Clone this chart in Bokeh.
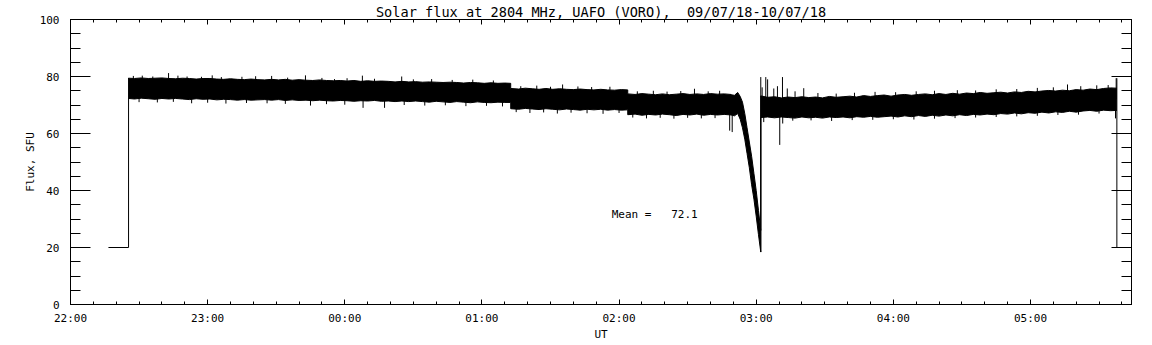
import numpy as np
from bokeh.plotting import figure
from bokeh.models import Range1d, FixedTicker, LinearAxis, Label, CustomJSTickFormatter
from bokeh.embed import file_html
from bokeh.resources import INLINE

# ---------------- data ----------------
TITLE = "Solar flux at 2804 MHz, UAFO (VORO),\u00a0 09/07/18-10/07/18"
X_LABEL = "UT"
Y_LABEL = "Flux, SFU"
hour_ticks = [0, 60, 120, 180, 240, 300, 360, 420]          # minutes after 22:00 UT
hour_labels = ["22:00", "23:00", "00:00", "01:00", "02:00", "03:00", "04:00", "05:00"]
y_ticks = [0, 20, 40, 60, 80, 100]
mean_flux = 72.1

# noise band of the record: sample times (min after 22:00) with lower / upper envelope (SFU)
a_times = [25.4, 28, 31, 34, 37, 40, 43, 46, 49, 52, 55, 58, 61, 64, 67, 70, 73, 76, 79, 82,
           85, 88, 91, 94, 97, 100, 103, 106, 109, 112, 115, 118, 121, 124, 127, 130, 133, 136,
           139, 142, 145, 148, 151, 154, 157, 160, 163, 166, 169, 172, 175, 178, 181, 184, 187, 190,
           192.6]
a_upper = [79.4, 79.3, 79.5, 79.3, 79.4, 79.5, 79.3, 79.2, 79.4, 79.3,
           79.1, 79.3, 79.3, 79.1, 79.0, 79.2, 79.0, 78.9, 79.1, 78.9,
           78.8, 79.0, 78.8, 79.0, 78.7, 78.9, 78.7, 78.6, 78.8, 78.6,
           78.5, 78.6, 78.4, 78.6, 78.3, 78.5, 78.3, 78.4, 78.3, 78.1,
           78.3, 78.1, 78.2, 78.0, 78.1, 78.0, 77.9, 78.0, 77.9, 77.7,
           77.9, 77.8, 77.6, 77.8, 77.6, 77.7, 77.6]
a_lower = [72.3, 72.1, 72.4, 72.2, 72.0, 72.3, 72.1, 72.3, 72.1, 71.9,
           72.2, 72.0, 72.1, 71.8, 72.0, 71.9, 71.7, 71.9, 71.7, 71.8,
           71.9, 71.7, 71.9, 71.6, 71.8, 71.6, 71.7, 71.5, 71.7, 71.5,
           71.4, 71.6, 71.5, 71.3, 71.5, 71.4, 71.6, 71.3, 71.4, 71.2,
           71.4, 71.2, 71.4, 71.2, 71.0, 71.3, 71.1, 70.9, 71.2, 71.0,
           70.8, 71.1, 70.9, 70.8, 71.0, 70.9, 70.9]

b_times = [192.6, 196, 199, 202, 205, 208, 211, 214, 217, 220, 223, 226, 229, 232, 235, 238, 241, 243.8]
b_upper = [75.8, 75.6, 75.9, 75.7, 75.5, 75.8, 75.5, 75.7, 75.5, 75.4, 75.6, 75.4, 75.3, 75.5, 75.3, 75.2, 75.4, 75.3]
b_lower = [68.7, 68.5, 68.8, 68.6, 68.4, 68.7, 68.5, 68.3, 68.6, 68.4, 68.2, 68.5, 68.3, 68.5, 68.2, 68.4, 68.2, 68.3]

c_times = [243.8, 247, 250, 253, 256, 259, 262, 265, 268, 271, 274, 277, 280, 283, 286, 289]
c_upper = [73.9, 73.7, 74.0, 73.8, 73.6, 73.9, 73.6, 73.8, 74.0, 73.7, 73.9, 73.7, 74.0, 73.8, 73.9, 73.7]
c_lower = [66.6, 66.8, 66.4, 66.7, 66.5, 66.8, 66.6, 66.3, 66.7, 66.5, 66.8, 66.4, 66.7, 66.5, 66.7, 66.5]

dip_times = [289, 290.5, 291.9, 293, 294, 295, 296, 297, 298, 299, 300, 301, 302]
dip_upper = [73.6, 73.4, 74.4, 73.0, 71.0, 67.0, 62.0, 57.0, 52.0, 46.0, 40.0, 33.0, 26.0]
dip_lower = [66.5, 66.2, 67.0, 65.0, 62.0, 58.0, 53.0, 48.0, 42.0, 37.0, 31.0, 24.5, 18.4]

d_times = [302, 305, 308, 311, 314, 317, 320, 323, 326, 329, 332, 335, 338, 341, 344, 347,
           350, 353, 356, 359, 362, 365, 368, 371, 374, 377, 380, 383, 386, 389, 392, 395,
           398, 401, 404, 407, 410, 413, 416, 419, 422, 425, 428, 431, 434, 437, 440, 443,
           446, 449, 452, 455, 457.8]
d_upper = [73.2, 72.7, 72.9, 72.5, 72.8, 72.6, 72.9, 72.6, 72.8, 72.5,
           73.0, 72.7, 72.9, 73.1, 72.8, 73.3, 73.0, 73.3, 73.5, 73.1,
           73.5, 73.7, 73.4, 73.7, 73.9, 73.6, 74.0, 73.7, 74.1, 73.8,
           74.2, 74.0, 74.4, 74.1, 74.3, 74.5, 74.2, 74.6, 74.4, 74.8,
           74.6, 74.9, 75.1, 74.9, 75.2, 75.0, 75.4, 75.2, 75.6, 75.4,
           75.8, 76.0, 75.9]
d_lower = [65.6, 65.8, 65.5, 65.8, 65.6, 65.4, 65.8, 65.5, 65.7, 65.4,
           65.8, 65.6, 65.8, 65.5, 65.9, 65.7, 66.0, 65.7, 65.9, 66.1,
           65.8, 66.2, 65.9, 66.3, 66.0, 66.4, 66.1, 66.5, 66.2, 66.6,
           66.3, 66.7, 66.5, 66.8, 66.6, 67.0, 66.8, 67.2, 66.9, 67.3,
           67.1, 67.5, 67.2, 67.6, 67.4, 67.8, 67.5, 67.9, 68.1, 67.8,
           68.2, 68.0, 68.1]

# isolated excursions above / below the band: time (min after 22:00), value (SFU)
up_spike_t = [27.5, 31.4, 36, 42.9, 47, 51, 57.3, 62, 66, 75, 81, 88, 95, 102.8, 110, 115.5,
              121, 127.7, 133, 144.9, 150, 158, 167, 176, 185,
              197, 204, 210, 215.3, 222, 228, 236,
              248, 255, 261, 267, 273, 279, 284,
              302.6, 304.2, 305, 307.7, 309.3, 311.5, 313.6, 317, 320.8, 327, 335, 343, 352,
              361, 370, 378, 388, 396, 405, 414, 423, 430, 436.2, 442, 449, 454, 457.5]
up_spike_v = [80.2, 80.3, 80.0, 81.2, 80.3, 80.0, 79.9, 80.4, 79.8, 79.9, 80.1, 80.2, 79.6, 80.4,
              79.5, 79.1, 79.4, 80.3, 79.2, 80.0, 79.0, 79.1, 78.8, 78.9, 78.6,
              76.6, 76.8, 76.4, 77.2, 76.5, 76.3, 76.4,
              74.8, 75.0, 74.7, 74.9, 75.7, 74.8, 75.0,
              76.2, 79.8, 79.0, 75.8, 76.6, 79.8, 75.8, 74.8, 75.9, 74.2, 74.0, 74.3, 74.6,
              74.5, 74.8, 75.0, 75.2, 75.1, 75.5, 75.6, 76.0, 76.2, 77.2, 76.6, 76.9, 77.0, 79.4]
dn_spike_t = [30, 38, 45, 53, 60, 68, 77, 86, 94, 105, 112, 120, 128, 137.4, 146, 155, 164, 173,
              182, 189,
              195, 201, 207, 213, 219, 226, 233, 240,
              246, 252, 258, 264, 270, 276, 282, 288.4, 289.5,
              303.3, 310.3, 311.6, 316, 324, 333, 342, 351, 360, 369, 378, 387, 396, 405, 414,
              423, 432, 441, 450, 457.2]
dn_spike_v = [71.0, 70.9, 71.1, 70.6, 70.8, 70.5, 70.7, 70.6, 70.4, 69.8, 70.3, 70.1, 69.0, 69.0,
              70.0, 69.8, 69.9, 69.6, 69.7, 69.5,
              67.5, 67.2, 67.4, 67.0, 67.3, 67.1, 66.9, 67.2,
              65.6, 65.3, 65.5, 65.2, 65.5, 65.3, 65.4, 61.0, 60.5,
              64.0, 56.0, 63.5, 64.5, 64.6, 64.4, 64.7, 64.8, 65.0, 64.9, 65.2, 65.4, 65.6,
              65.8, 66.0, 66.2, 66.5, 66.6, 67.0, 65.3]

# thin trace segments: start of record, recovery after dip, end of record
start_t = [16.6, 25.4, 25.4]
start_v = [20.0, 20.0, 79.5]
jump_t = [302.0, 302.0]
jump_v = [18.4, 79.8]
end_t = [457.8, 457.8]
end_v = [79.4, 20.0]

# ---------------- figure ----------------
FONT = "DejaVu Sans Mono"
p = figure(width=1152, height=345, x_range=Range1d(0, 464.2), y_range=Range1d(0, 100),
           output_backend="svg", toolbar_location=None,
           min_border_left=70, min_border_right=21, min_border_top=19, min_border_bottom=41)
p.background_fill_color = "white"
p.border_fill_color = "white"
p.outline_line_color = "black"
p.xgrid.grid_line_color = None
p.ygrid.grid_line_color = None

p.title.text = TITLE
p.title.align = "center"
p.title.text_font = FONT
p.title.text_font_size = "13.6px"
p.title.text_font_style = "normal"
p.title.text_color = "black"
p.title.standoff = 0
p.title.offset = 0

x_ticker = FixedTicker(ticks=hour_ticks, minor_ticks=list(range(0, 470, 10)))
y_ticker = FixedTicker(ticks=y_ticks, minor_ticks=list(range(0, 101, 5)))

xa = p.xaxis[0]
xa.ticker = x_ticker
xa.major_label_overrides = {t: s for t, s in zip(hour_ticks, hour_labels)}
xa.axis_label = X_LABEL
ya = p.yaxis[0]
ya.ticker = y_ticker
ya.axis_label = Y_LABEL

for ax, tin, mtin in ((xa, 5, 3), (ya, 20, 10)):
    ax.major_tick_in = tin
    ax.major_tick_out = 0
    ax.minor_tick_in = mtin
    ax.minor_tick_out = 0
    ax.axis_line_color = "black"
    ax.major_tick_line_color = "black"
    ax.minor_tick_line_color = "black"
    ax.major_label_text_color = "black"
    ax.major_label_text_font = FONT
    ax.major_label_text_font_size = "11px"
    ax.axis_label_text_font = FONT
    ax.axis_label_text_font_size = "11px"
    ax.axis_label_text_font_style = "normal"
    ax.axis_label_text_color = "black"
    ax.axis_label_standoff = 0
xa.major_label_standoff = 7
ya.major_label_standoff = 11

blank = CustomJSTickFormatter(code="return ''")
top = LinearAxis(ticker=x_ticker, formatter=blank, major_tick_in=5, major_tick_out=0,
                 minor_tick_in=3, minor_tick_out=0, major_label_text_font_size="1px",
                 major_label_standoff=0, axis_line_color="black")
right = LinearAxis(ticker=y_ticker, formatter=blank, major_tick_in=20, major_tick_out=0,
                   minor_tick_in=10, minor_tick_out=0, major_label_text_font_size="1px",
                   major_label_standoff=0, axis_line_color="black")
p.add_layout(top, "above")
p.add_layout(right, "right")

# band
all_t = a_times + b_times + c_times + dip_times + d_times
all_up = a_upper + b_upper + c_upper + dip_upper + d_upper
all_lo = a_lower + b_lower + c_lower + dip_lower + d_lower
p.varea(x=all_t, y1=all_lo, y2=all_up, fill_color="black")
p.line(all_t, all_up, line_color="black", line_width=1)
p.line(all_t, all_lo, line_color="black", line_width=1)

# excursions, drawn from the middle of the band
mid = (np.array(all_up) + np.array(all_lo)) / 2.0
up_base = np.interp(up_spike_t, all_t, mid)
dn_base = np.interp(dn_spike_t, all_t, mid)
p.segment(x0=up_spike_t, y0=up_base, x1=up_spike_t, y1=up_spike_v, line_color="black", line_width=1)
p.segment(x0=dn_spike_t, y0=dn_base, x1=dn_spike_t, y1=dn_spike_v, line_color="black", line_width=1)

for tt, vv in ((start_t, start_v), (jump_t, jump_v), (end_t, end_v)):
    p.line(tt, vv, line_color="black", line_width=1)

# mean annotation
p.add_layout(Label(x=236.8, y=31.7, text="Mean =", text_align="left", text_baseline="middle",
                   text_font=FONT, text_font_size="11px", text_color="black"))
p.add_layout(Label(x=274.4, y=31.7, text=f"{mean_flux:.1f}", text_align="right", text_baseline="middle",
                   text_font=FONT, text_font_size="11px", text_color="black"))

open("out.html", "w").write(file_html(p, INLINE))
